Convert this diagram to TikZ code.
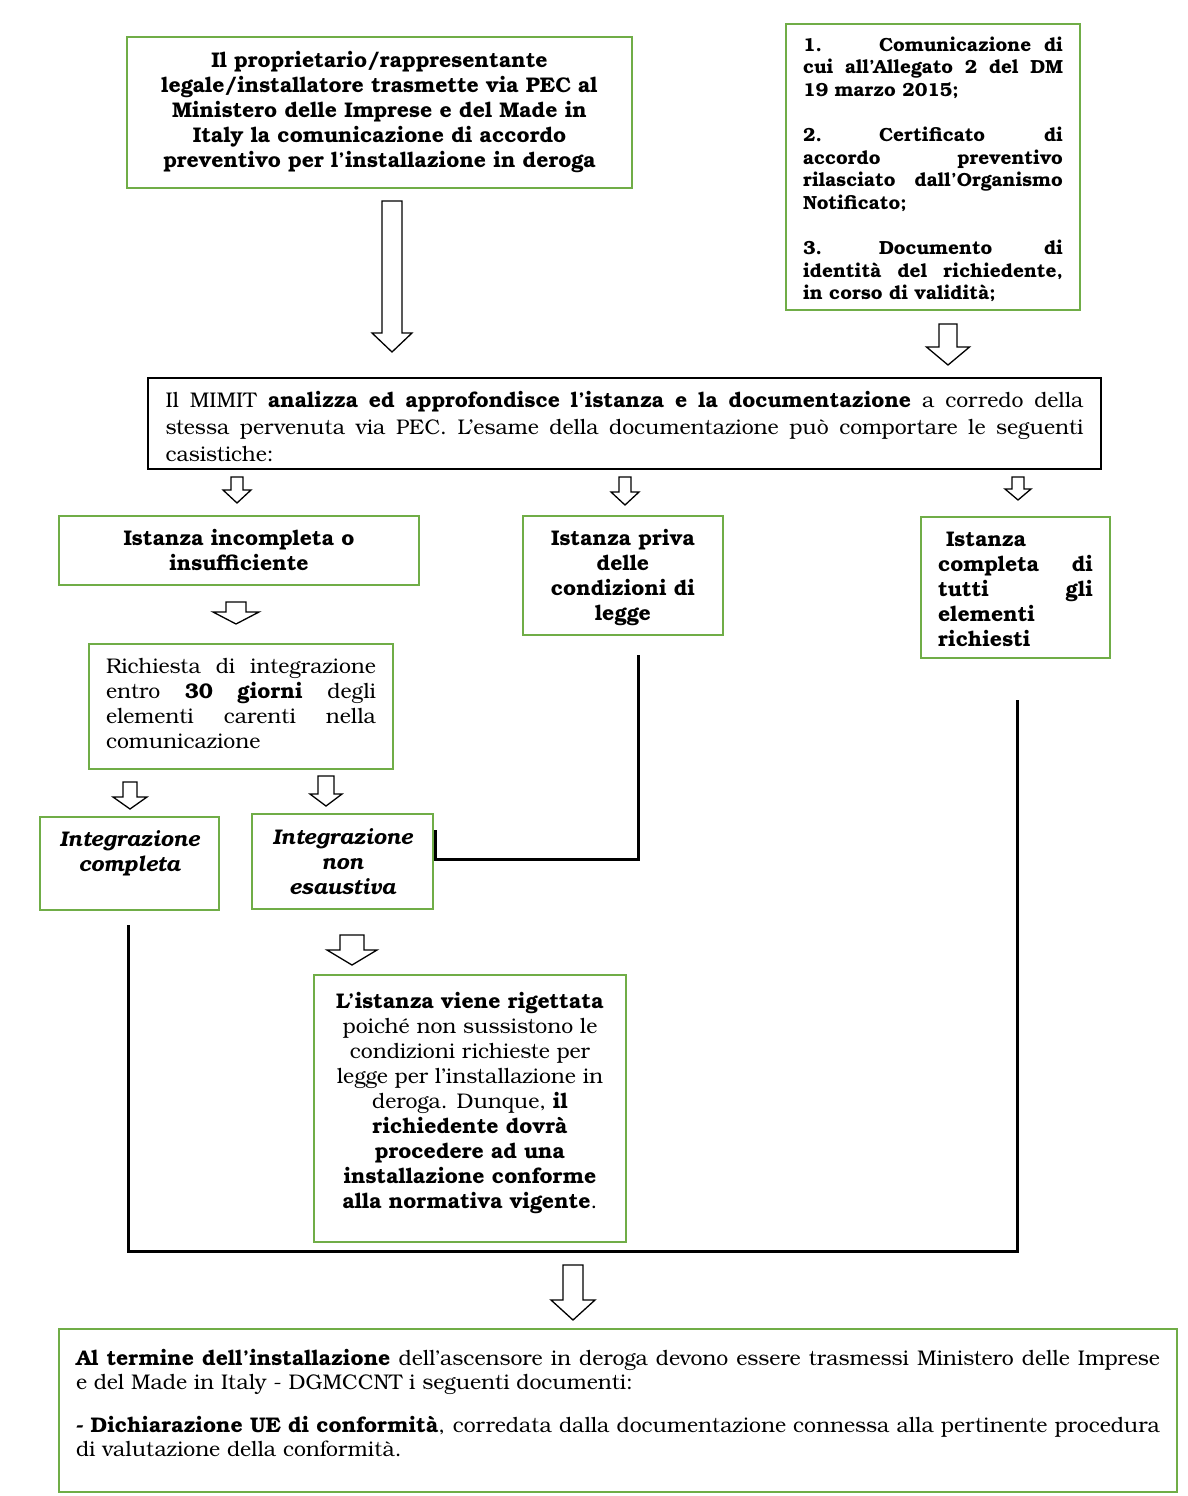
\documentclass[tikz,border=0pt]{standalone}
\usepackage{fontspec}
\setmainfont{texgyrebonum}[Extension=.otf,UprightFont=*-regular,BoldFont=*-bold,ItalicFont=*-italic,BoldItalicFont=*-bolditalic]
\definecolor{boxgreen}{HTML}{70AD47}
\newcommand\jl[1]{\hbox to \hsize{\spaceskip=.25em plus 1fil\relax #1}}
\newcommand\jll[1]{\hbox to \hsize{#1\hfil}}
\newcommand\cl[1]{\hbox to \hsize{\hfil #1\hfil}}
\newcommand\para[2]{\vbox{\hsize=#1\relax #2}}
\newcommand\barrow[7]{% name, cx, top, shaft half, head half, head base, tip
  \draw[blockarrow] (#2-#4,#3) -- (#2+#4,#3) -- (#2+#4,#6) -- (#2+#5,#6) -- (#2,#7) coordinate (#1) -- (#2-#5,#6) -- (#2-#4,#6) -- cycle;}
\tikzset{
  gbox/.style={draw=boxgreen, line width=1.6pt, inner sep=0pt, fill=white},
  kbox/.style={draw=black, line width=2pt, inner sep=0pt},
  blockarrow/.style={draw=black, line width=1.3pt, fill=white, line join=miter},
  conn/.style={draw=black, line width=3pt},
  fbold/.style={font=\bfseries\fontsize{21.2}{25}\selectfont},
  freg/.style={font=\fontsize{21.2}{25}\selectfont},
}
\begin{document}
\begin{tikzpicture}[x=1pt,y=-1pt]
\useasboundingbox[fill=white] (0,0) rectangle (1188,1496);

% Box A
\node[gbox, fbold, minimum width=505pt, minimum height=151pt] (A) at (379.5,112.5) {\para{490pt}{%
\cl{Il proprietario/rappresentante}
\cl{legale/installatore trasmette via PEC al}
\cl{Ministero delle Imprese e del Made in}
\cl{Italy la comunicazione di accordo}
\cl{preventivo per l’installazione in deroga}}};

% Box B
\node[gbox, font=\bfseries\fontsize{19}{22.6}\selectfont, minimum width=294pt, minimum height=286pt] (B) at (933,167) {\para{260pt}{%
\vskip 5pt
\jl{\makebox[76pt][l]{1.}Comunicazione di}
\jl{cui all’Allegato 2 del DM}
\jll{19 marzo 2015;}
\hbox{}
\jl{\makebox[76pt][l]{2.}Certificato di}
\jl{accordo preventivo}
\jl{rilasciato dall’Organismo}
\jll{Notificato;}
\hbox{}
\jl{\makebox[76pt][l]{3.}Documento di}
\jl{identità del richiedente,}
\jll{in corso di validità;}}};

% Box C
\node[kbox, font=\fontsize{21.2}{27}\selectfont, minimum width=953pt, minimum height=91pt] (C) at (624.5,423.5) {\para{918pt}{%
\vskip 6pt
\jl{Il MIMIT \textbf{analizza ed approfondisce l’istanza e la documentazione} a corredo della}
\jl{stessa pervenuta via PEC. L’esame della documentazione può comportare le seguenti}
\jll{casistiche:}}};

% Box D, E, F
\node[gbox, fbold, minimum width=360pt, minimum height=69pt] (D) at (239,550.5) {\para{340pt}{%
\cl{Istanza incompleta o}
\cl{insufficiente}}};
\node[gbox, fbold, minimum width=200pt, minimum height=119pt] (E) at (623,575.5) {\para{196pt}{%
\vskip 4pt
\cl{Istanza priva}
\cl{delle}
\cl{condizioni di}
\cl{legge}}};
\node[gbox, fbold, minimum width=189pt, minimum height=141pt] (F) at (1015.5,587.5) {\para{155pt}{%
\vskip 4pt
\jll{\hspace{8pt}Istanza}
\jl{completa di}
\jl{tutti gli}
\jll{elementi}
\jll{richiesti}}};

% Box G
\node[gbox, freg, minimum width=304pt, minimum height=125pt] (G) at (241,706.5) {\para{270pt}{%
\jl{Richiesta di integrazione}
\jl{entro \textbf{30 giorni} degli}
\jl{elementi carenti nella}
\jll{comunicazione}
\vskip 6pt}};

% Box H, I
\node[gbox, font=\bfseries\itshape\fontsize{21.2}{25}\selectfont, minimum width=179pt, minimum height=93pt] (H) at (129.5,863.5) {\para{176pt}{%
\cl{Integrazione}
\cl{completa}
\hbox{}}};
\node[gbox, font=\bfseries\itshape\fontsize{21.2}{25}\selectfont, minimum width=181pt, minimum height=95pt] (I) at (342.5,861.5) {\para{176pt}{%
\cl{Integrazione}
\cl{non}
\cl{esaustiva}}};

% Box J
\node[gbox, freg, minimum width=312pt, minimum height=267pt] (J) at (470,1108.5) {\para{306pt}{%
\cl{\textbf{L’istanza viene rigettata}}
\cl{poiché non sussistono le}
\cl{condizioni richieste per}
\cl{legge per l’installazione in}
\cl{deroga. Dunque, \textbf{il}}
\cl{\textbf{richiedente dovrà}}
\cl{\textbf{procedere ad una}}
\cl{\textbf{installazione conforme}}
\cl{\textbf{alla normativa vigente}.}
\vskip 11pt}};

% Box K
\node[gbox, line width=2pt, font=\fontsize{21.2}{24}\selectfont, minimum width=1118pt, minimum height=163pt] (K) at (618,1410.5) {\para{1084pt}{%
\jl{\textbf{Al termine dell’installazione} dell’ascensore in deroga devono essere trasmessi Ministero delle Imprese}
\jll{e del Made in Italy - DGMCCNT i seguenti documenti:}
\vskip 19pt
\jl{\textbf{- Dichiarazione UE di conformità}, corredata dalla documentazione connessa alla pertinente procedura}
\jll{di valutazione della conformità.}
\vskip 16pt}};

% block arrows
\barrow{aAC}{392}{201}{10}{20}{333}{352}
\barrow{aBC}{948}{324}{9}{21.5}{347}{365}
\barrow{aCD}{237}{477}{6}{14}{490}{503}
\barrow{aCE}{625}{477}{6}{14}{492}{505}
\barrow{aCF}{1018}{477}{6}{13}{489}{500}
\barrow{aDG}{236}{602}{10}{23}{612}{624}
\barrow{aGH}{130}{782}{7}{17}{797}{809}
\barrow{aGI}{326}{776}{8}{16}{794}{806}
\barrow{aIJ}{352}{935}{12}{25}{950}{965}
\barrow{aK}{573}{1265}{10}{22}{1300}{1320}

% connectors
\coordinate (eS) at (638,655);
\coordinate (iE) at (435,859);
\coordinate (iT) at (435,830);
\coordinate (hS) at (128,925);
\coordinate (fB) at (1017,1251);
\coordinate (fS) at (1017,700);
\draw[conn] (eS) |- (iE) -- (iT);
\draw[conn] (hS) |- (fB) -- (fS);
\end{tikzpicture}
\end{document}
